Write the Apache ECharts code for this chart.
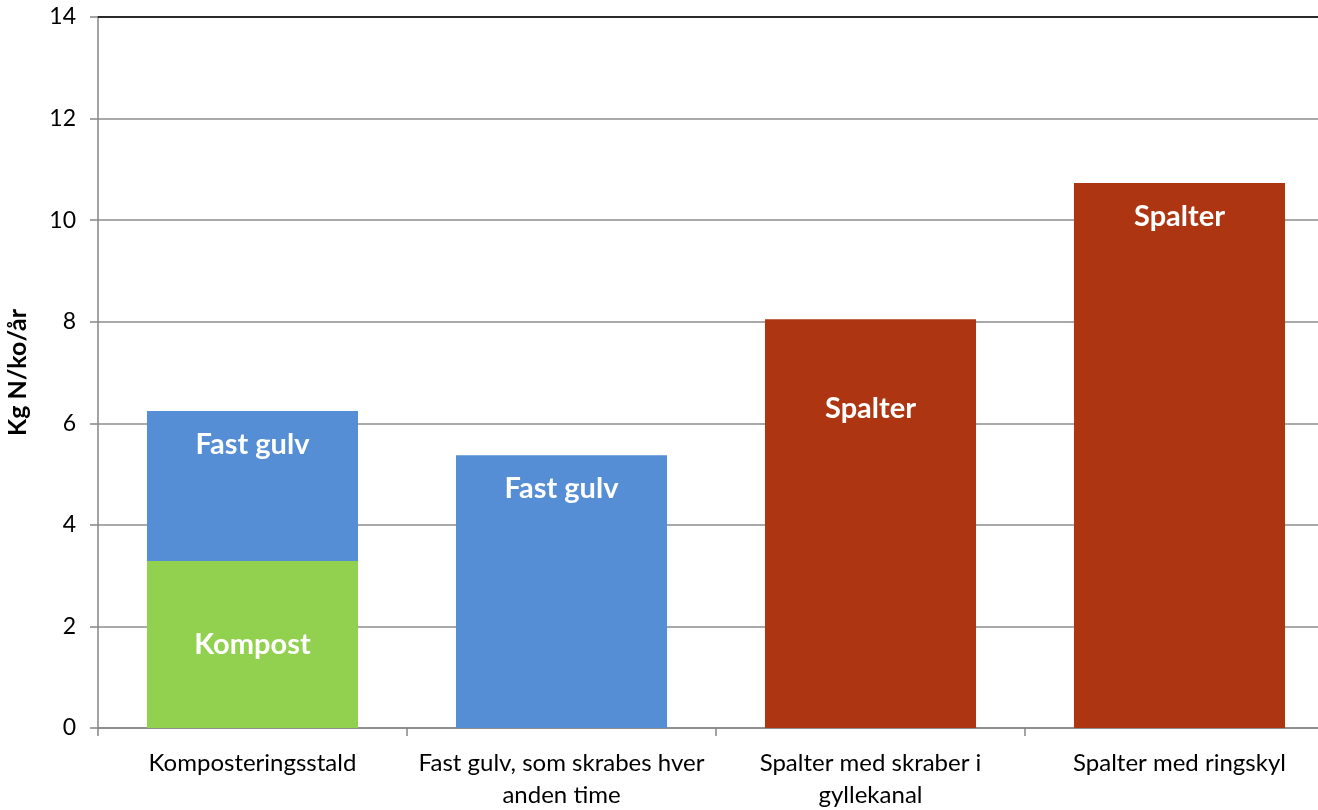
<!DOCTYPE html>
<html>
<head>
<meta charset="utf-8">
<script src="https://cdn.jsdelivr.net/npm/echarts@6/dist/echarts.min.js"></script>
<style>
html,body{margin:0;padding:0;background:#fff;}
#chart{width:1318px;height:810px;}
</style>
</head>
<body>
<div id="chart"></div>
<script>
const categories = ["Komposteringsstald", "Fast gulv, som skrabes hver\nanden time", "Spalter med skraber i\ngyllekanal", "Spalter med ringskyl"];
const kompost = [3.29, null, null, null];
const fastGulv = [2.95, 5.37, null, null];
const spalter = [null, null, 8.05, 10.73];
const yTicks = [0, 2, 4, 6, 8, 10, 12, 14];

const FONT = 'Lato';
const chart = echarts.init(document.getElementById('chart'), null, {renderer: 'canvas'});

function lbl(name, pos, dist) {
  return {show: true, position: pos, distance: dist, formatter: name, color: '#fff',
    fontFamily: FONT, fontWeight: 'bold', fontSize: 29};
}

chart.setOption({
  animation: false,
  backgroundColor: '#fff',
  grid: {left: 98, right: -16, top: 17, bottom: 82, containLabel: false, outerBoundsMode: 'none'},
  xAxis: [{
    type: 'category', data: categories,
    axisLine: {lineStyle: {color: '#868686', width: 1.5}},
    axisTick: {show: true, length: 8, lineStyle: {color: '#868686', width: 1.5}},
    axisLabel: {color: '#000', fontFamily: FONT, fontSize: 24, margin: 19, lineHeight: 32, interval: 0}
  }, {
    type: 'category', data: categories, position: 'top',
    axisLine: {show: true, lineStyle: {color: '#000', width: 1.5}},
    axisTick: {show: false}, axisLabel: {show: false}
  }],
  yAxis: {
    type: 'value', min: yTicks[0], max: yTicks[yTicks.length - 1], interval: 2,
    name: 'Kg N/ko/år', nameLocation: 'middle', nameGap: 68, nameRotate: 90,
    nameTextStyle: {color: '#000', fontFamily: FONT, fontWeight: 'bold', fontSize: 25},
    axisLine: {show: true, lineStyle: {color: '#868686', width: 1.5}},
    axisTick: {show: true, length: 8, lineStyle: {color: '#868686', width: 1.5}},
    axisLabel: {color: '#000', fontFamily: FONT, fontSize: 23, margin: 22},
    splitLine: {lineStyle: {color: '#8c8c8c', width: 1.5}}
  },
  series: [
    {name: 'Kompost', type: 'bar', stack: 'a', data: kompost, barCategoryGap: '31.7%',
     itemStyle: {color: '#92d050'}, label: lbl('Kompost', 'inside', 0)},
    {name: 'Fast gulv', type: 'bar', stack: 'a', data: fastGulv,
     itemStyle: {color: '#558ed5'}, label: lbl('Fast gulv', 'insideTop', 19)},
    {name: 'Spalter', type: 'bar', stack: 'a',
     data: spalter.map((v, i) => i === 2 ? {value: v, label: {distance: 75}} : v),
     itemStyle: {color: '#ae3512'}, label: lbl('Spalter', 'insideTop', 19)}
  ]
});
</script>
</body>
</html>
